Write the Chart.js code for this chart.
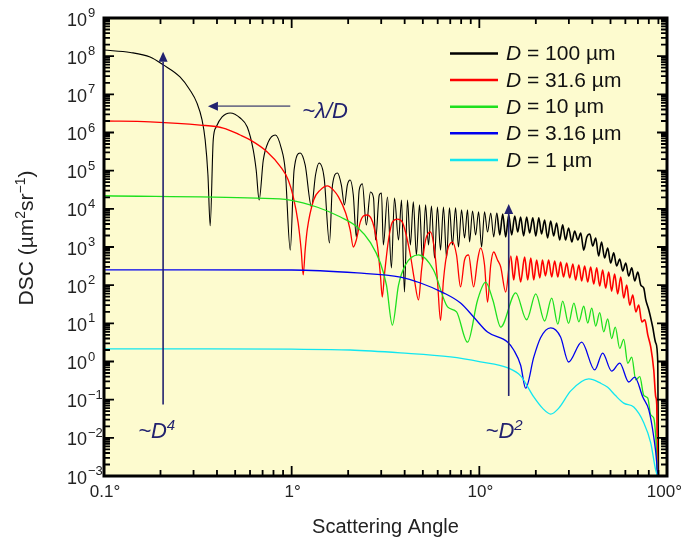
<!DOCTYPE html>
<html>
<head>
<meta charset="utf-8">
<script src="https://cdn.jsdelivr.net/npm/chart.js@4"></script>
<style>
  html, body { margin: 0; padding: 0; background: #ffffff; }
  canvas { display: block; }
</style>
</head>
<body>
<canvas id="myChart" width="684" height="540"></canvas>
<script>
// ***** DATA *****
// each point: [scattering angle (deg), DSC (um^2 sr^-1)]

const seriesNames = ['100 µm', '31.6 µm', '10 µm', '3.16 µm', '1 µm'];
const seriesColors = ['#000000', '#ff0000', '#1ee01e', '#0000ee', '#12e6f0'];

const black100 = [
  [0.1, 1.45e8], [0.138, 1.25e8], [0.176, 9.5e7], [0.207, 5.9e7], [0.254, 2.85e7], [0.287, 1.3e7],
  [0.313, 5.9e6], [0.333, 2.13e6], [0.346, 6.4e5], [0.358, 7.7e4], [0.368, 3.6e3], [0.382, 6.4e5],
  [0.396, 1.39e6], [0.426, 2.55e6], [0.470, 3.24e6], [0.532, 2.4e6], [0.580, 1.39e6], [0.624, 3.5e5],
  [0.647, 1.04e5], [0.671, 1.71e4], [0.706, 1.9e5], [0.750, 5.6e5], [0.818, 8.6e5], [0.880, 3.9e5],
  [0.924, 1.04e5], [0.983, 830], [1.03, 1.04e5], [1.11, 2.9e5], [1.18, 1.41e5], [1.275, 1.12e4],
  [1.34, 7.7e4], [1.40, 1.59e5], [1.49, 6.4e4], [1.59, 1.27e3], [1.65, 4.2e4], [1.755, 8.7e4],
  [1.84, 4.2e4], [1.91, 1.27e4], [1.98, 4.2e4], [2.05, 5.7e4], [2.13, 2.3e4], [2.21, 1.83e3],
  [2.29, 3.1e4], [2.38, 4.5e4], [2.50, 3.8e3], [2.63, 2.77e4], [2.73, 1.93e4], [2.80, 1.52e3],
  [2.93, 2.3e4], [3.01, 2.6e4], [3.08, 1.13e3], [3.24, 2.05e4], [3.40, 283], [3.53, 1.93e4],
  [3.71, 1.52e3], [3.85, 1.71e4], [3.99, 66], [4.14, 1.71e4], [4.29, 1.13e3], [4.45, 1.52e4],
  [4.62, 617], [4.80, 1.27e4], [4.98, 405], [5.17, 1.27e4], [5.36, 1.13e3], [5.56, 1.19e4],
  [5.77, 515], [5.98, 1.12e4], [6.21, 830], [6.44, 1.12e4], [6.69, 515], [6.93, 1.06e4],
  [7.19, 1.13e3], [7.47, 1.06e4], [7.74, 1e3], [8.04, 9.4e3], [8.34, 1.72e3], [8.65, 9.4e3],
  [8.87, 1.35e3], [9.20, 8.8e3], [9.55, 2.06e3], [9.91, 8.3e3], [10.28, 1e3], [10.66, 8.3e3],
  [11.06, 2.47e3], [11.5, 7.8e3], [11.93, 1.83e3], [12.38, 7.8e3], [12.85, 2.06e3], [13.32, 7.35e3],
  [13.82, 1.83e3], [14.34, 6.9e3], [14.88, 2.06e3], [15.44, 6.5e3], [16.02, 2.47e3], [16.6, 6.1e3],
  [17.22, 1.94e3], [17.87, 6.1e3], [18.54, 2.33e3], [19.27, 5.8e3], [19.99, 1.94e3], [20.74, 5.8e3],
  [21.46, 2.19e3], [22.27, 5.1e3], [23.1, 1.72e3], [24.0, 4.8e3], [24.9, 1.94e3], [25.8, 4.27e3],
  [26.8, 1.52e3], [27.8, 3.8e3], [28.8, 1.52e3], [29.9, 3.16e3], [31.1, 1.35e3], [32.2, 2.63e3],
  [33.5, 1.52e3], [34.7, 2.33e3], [36.0, 830], [37.4, 1.83e3], [38.8, 2.19e3], [40.2, 1.06e3],
  [41.7, 1.72e3], [43.2, 580], [44.8, 1.35e3], [46.5, 515], [48.3, 940], [50.1, 380],
  [52.0, 700], [53.9, 318], [56.0, 485], [58.1, 235], [60.3, 380], [62.5, 174],
  [64.9, 283], [67.3, 129], [69.9, 221], [72.5, 100], [75.2, 84], [77.1, 41],
  [80.0, 22.4], [83.9, 8], [87.1, 3.06], [89.3, 0.97], [90, 1e-3]
];

const red316 = [
  [0.1, 2.0e6], [0.176, 1.9e6], [0.325, 1.57e6], [0.432, 1.31e6], [0.532, 8.6e5], [0.601, 6.4e5],
  [0.741, 3.1e5], [0.869, 1.3e5], [0.959, 5.7e4], [1.02, 2.05e4], [1.083, 4.3e3], [1.124, 830],
  [1.152, 185], [1.18, 830], [1.21, 2.8e3], [1.31, 1.71e4], [1.42, 3.1e4], [1.55, 4.0e4],
  [1.67, 3.1e4], [1.776, 2.05e4], [1.94, 7.8e3], [2.05, 2.8e3], [2.13, 1e3], [2.21, 1.52e3],
  [2.32, 4.5e3], [2.41, 6.5e3], [2.53, 6.9e3], [2.70, 4.5e3], [2.87, 1e3], [2.97, 185],
  [3.04, 49], [3.12, 185], [3.28, 1.52e3], [3.44, 4.5e3], [3.66, 5.4e3], [3.89, 4.5e3],
  [4.04, 2.47e3], [4.29, 617], [4.51, 137], [4.74, 41], [4.92, 250], [5.17, 1.52e3],
  [5.49, 2.47e3], [5.77, 830], [5.98, 137], [6.21, 11.9], [6.44, 137], [6.77, 830],
  [7.19, 1.35e3], [7.56, 617], [7.94, 90], [8.34, 456], [8.76, 617], [9.32, 90],
  [9.79, 456], [10.15, 940], [10.66, 338], [11.06, 36], [11.5, 338], [11.93, 740],
  [12.5, 456], [13.0, 300], [13.82, 66], [14.7, 580], [15.25, 137], [15.83, 580],
  [16.6, 121], [17.44, 546], [18.1, 137], [18.8, 515], [19.5, 137], [20.2, 456],
  [21.0, 155], [21.7, 456], [22.5, 175], [23.4, 456], [24.3, 164], [25.2, 430],
  [26.2, 164], [27.1, 405], [28.1, 164], [29.2, 380], [30.3, 155], [31.5, 358],
  [32.6, 137], [33.9, 338], [35.1, 129], [36.4, 318], [37.8, 121], [39.2, 300],
  [40.7, 107], [42.2, 283], [43.8, 95], [45.4, 250], [47.1, 84], [48.9, 221],
  [50.7, 70], [52.6, 197], [54.6, 59], [56.7, 164], [58.8, 46], [61.0, 100],
  [63.3, 30], [65.7, 55], [68.2, 19.9], [70.7, 30], [73.4, 10.9], [76.2, 12.3],
  [79.0, 5.0], [81.9, 2.4], [85.0, 0.6], [87.1, 0.118], [88.2, 0.073], [89, 1e-3]
];

const green10 = [
  [0.1, 2.2e4], [0.647, 1.9e4], [0.98, 1.7e4], [1.373, 1.1e4], [1.82, 6.1e3], [2.24, 3.3e3],
  [2.63, 1.3e3], [2.97, 380], [3.20, 100], [3.44, 9], [3.71, 100], [4.04, 340],
  [4.74, 620], [5.70, 250], [6.77, 27], [7.56, 20], [8.65, 3.2], [9.79, 41],
  [10.8, 120], [11.8, 41], [13.0, 8], [15.63, 63], [17.87, 12.4], [19.99, 59],
  [22.27, 11.5], [24.3, 46], [26.2, 9.5], [27.8, 38], [29.9, 10], [31.9, 34],
  [33.9, 11], [36.0, 28], [37.8, 10.2], [39.7, 25], [41.7, 8.5], [43.8, 19],
  [46.0, 6], [48.3, 13], [50.7, 4], [53.0, 8], [56.0, 2.2], [58.8, 3.8],
  [61.8, 0.9], [64.9, 1.3], [68.2, 0.33], [71.6, 0.4], [75.2, 0.13], [79.0, 0.11],
  [81.9, 0.04], [85.0, 0.033], [87.1, 0.0105], [89, 1e-3]
];

const blue316 = [
  [0.1, 251], [1.0, 250], [2.24, 209], [3.80, 163], [4.86, 114], [6.44, 63],
  [7.94, 34], [9.32, 14.7], [11.06, 5.9], [14.17, 3.2], [15.25, 2.0], [16.6, 0.8],
  [17.65, 0.2], [19.5, 1.3], [21.2, 4.2], [24.0, 7.6], [27.1, 4.4], [29.9, 0.97],
  [35.1, 3.2], [41.2, 0.60], [45.4, 1.66], [50.7, 0.56], [56.0, 0.91], [62.5, 0.29],
  [67.3, 0.39], [74.3, 0.117], [80.0, 0.054], [85.0, 0.0105], [88.2, 0.0022], [89, 1e-3]
];

const cyan1 = [
  [0.1, 2.13], [0.325, 2.13], [1.0, 2.1], [2.05, 2.0], [3.80, 1.68], [7.02, 1.32],
  [10.15, 0.98], [14.2, 0.68], [16.6, 0.42], [19.5, 0.118], [21.7, 0.06], [24.0, 0.042],
  [26.5, 0.06], [30.7, 0.17], [38.3, 0.35], [44.3, 0.27], [48.3, 0.21], [53.0, 0.13],
  [58.8, 0.081], [66.5, 0.064], [75.2, 0.025], [81.9, 0.0074], [87.1, 0.0014], [89, 1e-3]
];

const xTickValues = [0.1, 1, 10, 100];
const xTickLabels = ['0.1°', '1°', '10°', '100°'];
const yTickExponents = [-3, -2, -1, 0, 1, 2, 3, 4, 5, 6, 7, 8, 9];

// annotation anchors, in data units [angle, DSC]
const arrowD4 = [[0.2065, 0.075], [0.2065, 1.3e8]];
const arrowLambda = [[0.983, 4.9e6], [0.358, 4.9e6]];
const arrowD2 = [[14.34, 0.125], [14.34, 1.34e4]];
const labelD4At = [0.152, 0.01];
const labelD2At = [10.8, 0.01];
const labelLambdaAt = [1.138, 2.4e6];


// ***** STYLE *****
const FONT = '"Liberation Sans", Arial, Helvetica, sans-serif';
const plotBg = '#fdfbcf';
const navy = '#22226f';

const ctx = document.getElementById('myChart').getContext('2d');


// ***** HELPERS *****
function px(chart, p) {
  return [chart.scales.x.getPixelForValue(p[0]), chart.scales.y.getPixelForValue(p[1])];
}

// draws pieces of text one after another: [text, font, raise]
function drawRich(c, x, y, parts) {
  let cx = x;
  for (const part of parts) {
    c.font = part[1];
    c.fillText(part[0], cx, y - (part[2] || 0));
    cx += c.measureText(part[0]).width;
  }
  return cx;
}

function richWidth(c, parts) {
  let w = 0;
  for (const part of parts) {
    c.font = part[1];
    w += c.measureText(part[0]).width;
  }
  return w;
}

function drawArrow(c, from, to, lineColor, headColor) {
  const dx = to[0] - from[0], dy = to[1] - from[1];
  const len = Math.sqrt(dx * dx + dy * dy);
  const ux = dx / len, uy = dy / len;
  const headLen = 10, headHalf = 4.5;
  const bx = to[0] - ux * headLen, by = to[1] - uy * headLen;
  c.strokeStyle = lineColor;
  c.lineWidth = 1.6;
  c.beginPath();
  c.moveTo(from[0], from[1]);
  c.lineTo(bx, by);
  c.stroke();
  c.fillStyle = headColor;
  c.beginPath();
  c.moveTo(to[0], to[1]);
  c.lineTo(bx - uy * headHalf, by + ux * headHalf);
  c.lineTo(bx + uy * headHalf, by - ux * headHalf);
  c.closePath();
  c.fill();
}


// ***** PLUGIN: background, frame, ticks, labels, legend, notes *****
const decorPlugin = {
  id: 'decor',
  beforeDraw(chart) {
    const c = chart.ctx, a = chart.chartArea;
    c.save();
    c.fillStyle = '#ffffff';
    c.fillRect(0, 0, chart.width, chart.height);
    c.fillStyle = plotBg;
    c.fillRect(a.left, a.top, a.right - a.left, a.bottom - a.top);
    c.restore();
  },
  afterDatasetsDraw(chart) {
    const c = chart.ctx, a = chart.chartArea;
    const xs = chart.scales.x, ys = chart.scales.y;
    c.save();

    // notes and arrows
    drawArrow(c, px(chart, arrowD4[0]), px(chart, arrowD4[1]), navy, navy);
    drawArrow(c, px(chart, arrowLambda[0]), px(chart, arrowLambda[1]), '#74748a', navy);
    drawArrow(c, px(chart, arrowD2[0]), px(chart, arrowD2[1]), navy, navy);

    c.fillStyle = navy;
    c.textBaseline = 'alphabetic';
    c.textAlign = 'left';
    const big = 'italic 22px ' + FONT, sup = 'italic 15px ' + FONT;
    let p = px(chart, labelD4At);
    drawRich(c, p[0], p[1], [['~', big], ['D', big], ['4', sup, 8]]);
    p = px(chart, labelD2At);
    drawRich(c, p[0], p[1], [['~', big], ['D', big], ['2', sup, 8]]);
    p = px(chart, labelLambdaAt);
    drawRich(c, p[0], p[1], [['~λ/D', big]]);

    // legend
    for (let i = 0; i < seriesNames.length; i++) {
      const ly = 53.5 + i * 26.6;
      c.strokeStyle = seriesColors[i];
      c.lineWidth = 2.5;
      c.beginPath();
      c.moveTo(450, ly);
      c.lineTo(498, ly);
      c.stroke();
      c.fillStyle = '#111111';
      c.textBaseline = 'middle';
      drawRich(c, 506, ly + 1, [['D', 'italic 21px ' + FONT], [' = ' + seriesNames[i], '21px ' + FONT]]);
    }

    // frame
    c.strokeStyle = '#000000';
    c.lineWidth = 3;
    c.strokeRect(a.left, a.top, a.right - a.left, a.bottom - a.top);

    // ticks, pointing inward on all four sides
    c.lineWidth = 1.8;
    c.beginPath();
    for (let d = 0; d < 3; d++) {
      for (let m = 1; m <= 9; m++) {
        const v = xTickValues[d] * m;
        const x = xs.getPixelForValue(v);
        const len = m === 1 ? 10 : 6;
        c.moveTo(x, a.bottom); c.lineTo(x, a.bottom - len);
        c.moveTo(x, a.top); c.lineTo(x, a.top + len);
      }
    }
    for (let e = -3; e < 9; e++) {
      for (let m = 1; m <= 9; m++) {
        const y = ys.getPixelForValue(m * Math.pow(10, e));
        const len = m === 1 ? 10 : 6;
        c.moveTo(a.left, y); c.lineTo(a.left + len, y);
        c.moveTo(a.right, y); c.lineTo(a.right - len, y);
      }
    }
    c.stroke();

    // tick labels
    c.fillStyle = '#222222';
    c.textBaseline = 'alphabetic';
    c.font = '17px ' + FONT;
    c.textAlign = 'left';
    for (let i = 0; i < xTickValues.length; i++) {
      const w = c.measureText(xTickLabels[i]).width;
      let lx = xs.getPixelForValue(xTickValues[i]) + 1 - w / 2;
      lx = Math.min(lx, chart.width - 2 - w);
      c.fillText(xTickLabels[i], lx, 497);
    }
    for (const e of yTickExponents) {
      const y = ys.getPixelForValue(Math.pow(10, e));
      c.textAlign = 'right';
      c.font = '18px ' + FONT;
      c.fillText('10', 87, y + 7.5);
      c.textAlign = 'left';
      c.font = '13px ' + FONT;
      c.fillText(String(e).replace('-', '\u2212'), 88, y - 1);
    }

    // axis titles
    c.textAlign = 'left';
    c.font = '20px ' + FONT;
    const xt = 'Scattering Angle';
    c.fillText(xt, 385.5 - c.measureText(xt).width / 2, 533);

    const yParts = [['DSC (µm', '21px ' + FONT], ['2', '14px ' + FONT, 8], ['sr', '21px ' + FONT],
      ['\u22121', '14px ' + FONT, 8], [')', '21px ' + FONT]];
    c.translate(33, 238);
    c.rotate(-Math.PI / 2);
    drawRich(c, -richWidth(c, yParts) / 2, 0, yParts);

    c.restore();
  }
};


// ***** CHART *****
// the dense, noisy part of the two large-particle curves is drawn a little heavier
const heavyFrom = [12, 14, 1000, 1000, 1000];

const seriesList = [black100, red316, green10, blue316, cyan1];
const datasets = seriesList.map((pts, i) => ({
  label: 'D = ' + seriesNames[i],
  data: pts.map(pt => ({ x: pt[0], y: pt[1] })),
  borderColor: seriesColors[i],
  borderWidth: i === 0 ? 1.1 : 1.3,
  segment: {
    borderWidth: s => (s.p0.parsed.x >= heavyFrom[i] ? 1.6 : (i === 0 ? 1.1 : 1.3))
  },
  pointRadius: 0,
  fill: false,
  cubicInterpolationMode: 'monotone',
  order: seriesList.length - i
}));

new Chart(ctx, {
  type: 'line',
  data: { datasets: datasets },
  options: {
    responsive: false,
    animation: false,
    devicePixelRatio: 1,
    layout: { padding: { left: 104, right: 17, top: 18, bottom: 64 } },
    plugins: { legend: { display: false }, tooltip: { enabled: false } },
    scales: {
      x: { type: 'logarithmic', min: 0.1, max: 100, display: false },
      y: { type: 'logarithmic', min: 1e-3, max: 1e9, display: false }
    }
  },
  plugins: [decorPlugin]
});
</script>
</body>
</html>
